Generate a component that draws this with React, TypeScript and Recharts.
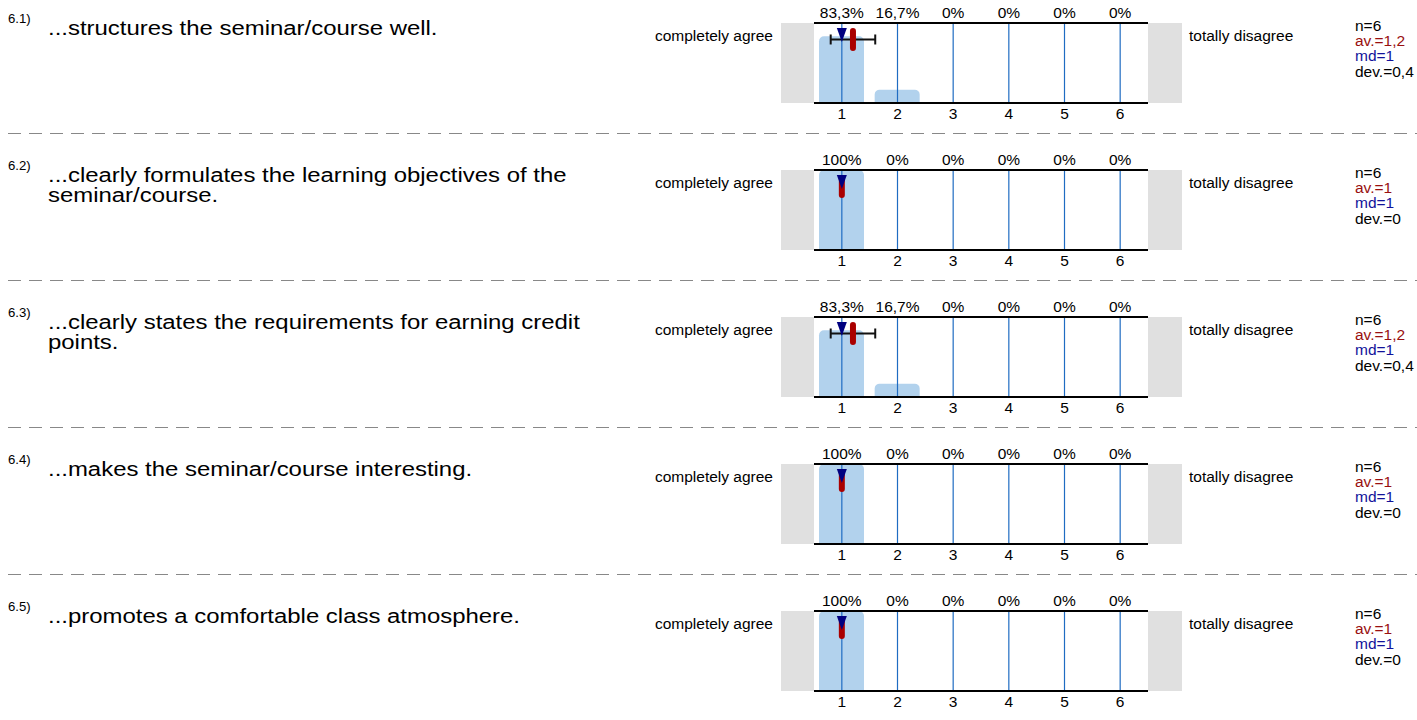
import React from 'react';
import {
  ComposedChart,
  Bar,
  Scatter,
  ErrorBar,
  XAxis,
  YAxis,
  ReferenceLine,
} from 'recharts';

// ---------- data ----------
const categories = ['1', '2', '3', '4', '5', '6'];
const itemNumbers = ['6.1)', '6.2)', '6.3)', '6.4)', '6.5)'];
const itemTextLines = [
  ['...structures the seminar/course well.'],
  ['...clearly formulates the learning objectives of the', 'seminar/course.'],
  ['...clearly states the requirements for earning credit', 'points.'],
  ['...makes the seminar/course interesting.'],
  ['...promotes a comfortable class atmosphere.'],
];
const percents61 = [83.3, 16.7, 0, 0, 0, 0];
const percents62 = [100, 0, 0, 0, 0, 0];
const percents63 = [83.3, 16.7, 0, 0, 0, 0];
const percents64 = [100, 0, 0, 0, 0, 0];
const percents65 = [100, 0, 0, 0, 0, 0];
const rowPercents = [percents61, percents62, percents63, percents64, percents65];
const nValues = [6, 6, 6, 6, 6];
const avValues = [1.2, 1, 1.2, 1, 1];
const mdValues = [1, 1, 1, 1, 1];
const devValues = [0.4, 0, 0.4, 0, 0];
const leftPoleLabel = 'completely agree';
const rightPoleLabel = 'totally disagree';

// ---------- styles ----------
const FONT = '"Liberation Sans", Arial, Helvetica, sans-serif';
const ROW_H = 147;
const CHART_LEFT = 781;
const CHART_W = 401;
const CHART_H = 128;
const MARGIN = { top: 0, right: 34, bottom: 0, left: 33 };
const TOP_AXIS_H = 23;
const BOTTOM_AXIS_H = 25;
const MARKER_LEVEL = 79.4; // vertical level of the marker row inside the 0-100 scale
const LABEL_SIZE = 15.5;
const GRAY = '#e0e0e0';
const GRID_BLUE = '#1f6cc2';
const AV_COLOR = '#990f0f';
const MD_COLOR = '#12129a';

const fmtNum = (v: number) => String(v).replace('.', ',');
const fmtPct = (v: number) =>
  (Number.isInteger(v) ? String(v) : v.toFixed(1).replace('.', ',')) + '%';

const AvShape = (props: any) => {
  const { cx, cy } = props;
  return <rect x={cx - 3} y={cy - 11.5} width={6} height={23} rx={3} ry={3} fill="#aa0000" />;
};
const MdShape = (props: any) => {
  const { cx, cy } = props;
  return (
    <polygon
      points={`${cx - 5},${cy - 11.5} ${cx + 5},${cy - 11.5} ${cx},${cy + 2.5}`}
      fill="#000080"
    />
  );
};
const EmptyShape = () => <g />;

function RowChart({ idx }: { idx: number }) {
  const pcts = rowPercents[idx];
  const data = categories.map((c, i) => ({ cat: c, pct: pcts[i] }));
  const pctLabels = pcts.map(fmtPct);
  const av = avValues[idx];
  const md = mdValues[idx];
  const dev = devValues[idx];
  const errData = [{ x: av, y: MARKER_LEVEL, err: dev }];
  const avData = [{ x: av, y: MARKER_LEVEL }];
  const mdData = [{ x: md, y: MARKER_LEVEL }];
  return (
    <ComposedChart width={CHART_W} height={CHART_H} data={data} margin={MARGIN}>
      <XAxis
        dataKey="cat"
        type="category"
        height={BOTTOM_AXIS_H}
        interval={0}
        axisLine={{ stroke: '#000', strokeWidth: 2 }}
        tickLine={false}
        tickSize={0}
        tickMargin={5}
        tick={{ fontSize: LABEL_SIZE, fill: '#000' }}
      />
      <XAxis
        xAxisId="top"
        dataKey="cat"
        type="category"
        orientation="top"
        height={TOP_AXIS_H}
        interval={0}
        axisLine={{ stroke: '#000', strokeWidth: 2 }}
        tickLine={false}
        tickSize={0}
        tickMargin={5}
        tick={{ fontSize: LABEL_SIZE, fill: '#000' }}
        tickFormatter={(_v: any, i: number) => pctLabels[i]}
      />
      <XAxis
        xAxisId="num"
        dataKey="x"
        type="number"
        domain={[0.5, 6.5]}
        allowDataOverflow
        hide
      />
      <YAxis hide domain={[0, 100]} allowDataOverflow />
      <Bar
        dataKey="pct"
        barSize={45}
        fill="#3f8fd2"
        fillOpacity={0.4}
        radius={[5, 5, 0, 0]}
        isAnimationActive={false}
      />
      {categories.map((c) => (
        <ReferenceLine key={c} x={c} stroke={GRID_BLUE} strokeWidth={1.2} />
      ))}
      {dev > 0 && (
        <Scatter
          data={errData}
          dataKey="y"
          xAxisId="num"
          shape={EmptyShape}
          isAnimationActive={false}
        >
          <ErrorBar dataKey="err" direction="x" width={5} stroke="#111" strokeWidth={2} />
        </Scatter>
      )}
      <Scatter data={avData} dataKey="y" xAxisId="num" shape={AvShape} isAnimationActive={false} />
      <Scatter data={mdData} dataKey="y" xAxisId="num" shape={MdShape} isAnimationActive={false} />
    </ComposedChart>
  );
}

function Overlay() {
  return (
    <svg
      width={1417}
      height={720}
      style={{ position: 'absolute', left: 0, top: 0, fontFamily: FONT }}
    >
      {itemNumbers.map((num, k) => {
        const top = k * ROW_H;
        return (
          <g key={num}>
            {/* gray pole boxes */}
            <rect x={781} y={top + 23} width={33} height={80} fill={GRAY} />
            <rect x={1148} y={top + 23} width={34} height={80} fill={GRAY} />
            <text fontSize={12} fill="#000" transform={`translate(8 ${top + 23}) scale(1.1 1)`}>
              {num}
            </text>
            {itemTextLines[k].map((line, j) => (
              <text
                key={j}
                fontSize={21}
                fill="#000"
                transform={`translate(48 ${top + 34.5 + j * 20}) scale(1.14 1)`}
              >
                {line}
              </text>
            ))}
            <text x={773} y={top + 40.5} fontSize={LABEL_SIZE} textAnchor="end" fill="#000">
              {leftPoleLabel}
            </text>
            <text x={1189} y={top + 40.5} fontSize={LABEL_SIZE} fill="#000">
              {rightPoleLabel}
            </text>
            <text x={1355} y={top + 30.7} fontSize={LABEL_SIZE} fill="#000">
              {`n=${nValues[k]}`}
            </text>
            <text x={1355} y={top + 46} fontSize={LABEL_SIZE} fill={AV_COLOR}>
              {`av.=${fmtNum(avValues[k])}`}
            </text>
            <text x={1355} y={top + 61.3} fontSize={LABEL_SIZE} fill={MD_COLOR}>
              {`md=${fmtNum(mdValues[k])}`}
            </text>
            <text x={1355} y={top + 76.6} fontSize={LABEL_SIZE} fill="#000">
              {`dev.=${fmtNum(devValues[k])}`}
            </text>
            {k < itemNumbers.length - 1 && (
              <line
                x1={0}
                x2={1417}
                y1={top + 133.5}
                y2={top + 133.5}
                stroke="#888"
                strokeWidth={1}
                strokeDasharray="13 8"
                strokeDashoffset={13}
              />
            )}
          </g>
        );
      })}
    </svg>
  );
}

export default function App() {
  return (
    <div
      style={{
        position: 'absolute',
        left: 0,
        top: 0,
        width: 1417,
        height: 720,
        background: '#fff',
        fontFamily: FONT,
      }}
    >
      <Overlay />
      {itemNumbers.map((num, k) => (
        <div
          key={num}
          style={{ position: 'absolute', left: CHART_LEFT, top: k * ROW_H, width: CHART_W, height: CHART_H }}
        >
          <RowChart idx={k} />
        </div>
      ))}
    </div>
  );
}
